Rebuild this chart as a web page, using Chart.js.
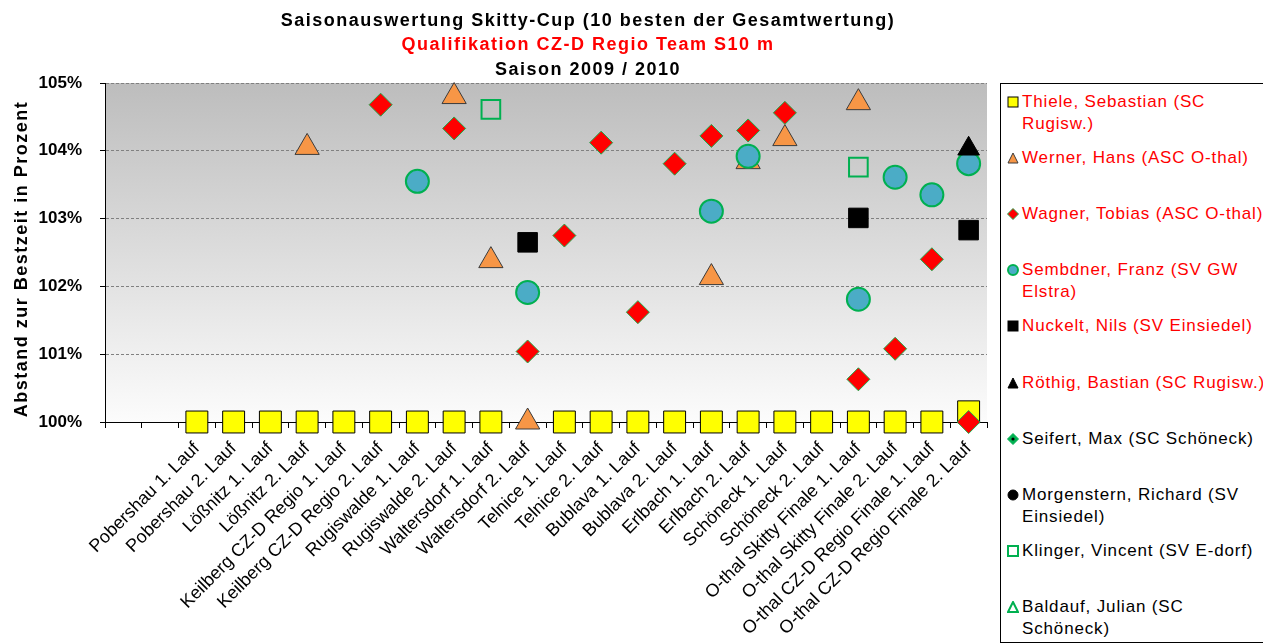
<!DOCTYPE html>
<html>
<head>
<meta charset="utf-8">
<script src="https://cdn.jsdelivr.net/npm/chart.js@4"></script>
<style>
  html, body { margin: 0; padding: 0; background: #fff; overflow: hidden; }
  #wrap { position: relative; width: 1263px; height: 644px; }
  #legend { position: absolute; left: 1000px; top: 83px; width: 290px; height: 558px; border: 1px solid #000;
            background: #fff; overflow: hidden; font: 17px Arial, "Liberation Sans", sans-serif; letter-spacing: 0.85px; }
  .item { position: absolute; left: 0; padding-left: 21px; line-height: 22px; white-space: nowrap; }
  .item svg { position: absolute; left: 6px; top: 5px; }
</style>
</head>
<body>
<div id="wrap">
  <canvas id="skittyChart" width="1263" height="644"></canvas>
  <div id="legend"></div>
</div>
<script>
// Saisonauswertung Skitty-Cup 2009/2010 - Abstand zur Bestzeit in Prozent

var categories = ['', '', 'Pobershau 1. Lauf', 'Pobershau 2. Lauf', 'Lößnitz 1. Lauf', 'Lößnitz 2. Lauf',
    'Keilberg CZ-D Regio 1. Lauf', 'Keilberg CZ-D Regio 2. Lauf', 'Rugiswalde 1. Lauf', 'Rugiswalde 2. Lauf',
    'Waltersdorf 1. Lauf', 'Waltersdorf 2. Lauf', 'Telnice 1. Lauf', 'Telnice 2. Lauf', 'Bublava 1. Lauf',
    'Bublava 2. Lauf', 'Erlbach 1. Lauf', 'Erlbach 2. Lauf', 'Schöneck 1. Lauf', 'Schöneck 2. Lauf',
    'O-thal Skitty Finale 1. Lauf', 'O-thal Skitty Finale 2. Lauf', 'O-thal CZ-D Regio Finale 1. Lauf',
    'O-thal CZ-D Regio Finale 2. Lauf'];

var thiele      = [null, null, 100, 100, 100, 100, 100, 100, 100, 100, 100, null, 100, 100, 100, 100, 100, 100, 100, 100, 100, 100, 100, 100.15];
var werner      = [null, null, null, null, null, 104.05, null, null, null, 104.80, 102.38, 100, null, null, null, null, 102.13, 103.84, 104.18, null, 104.71, null, null, null];
var wagner      = [null, null, null, null, null, null, null, 104.68, null, 104.33, null, 101.04, 102.75, 104.12, 101.62, 103.81, 104.22, 104.30, 104.56, null, 100.63, 101.08, 102.40, 100.0];
var sembdner    = [null, null, null, null, null, null, null, null, 103.55, null, null, 101.91, null, null, null, null, 103.11, 103.92, null, null, 101.81, 103.61, 103.35, 103.81];
var nuckelt     = [null, null, null, null, null, null, null, null, null, null, null, 102.65, null, null, null, null, null, null, null, null, 103.01, null, null, 102.83];
var roethig     = [null, null, null, null, null, null, null, null, null, null, null, null, null, null, null, null, null, null, null, null, null, null, null, 104.03];
var seifert     = [];
var morgenstern = [];
var klinger     = [null, null, null, null, null, null, null, null, null, null, 104.61, null, null, null, null, null, null, null, null, null, 103.76, null, null, null];
var baldauf     = [];

var yTicks = [100, 101, 102, 103, 104, 105];

var titleLines = ['Saisonauswertung Skitty-Cup (10 besten der Gesamtwertung)',
    'Qualifikation CZ-D Regio Team S10 m', 'Saison 2009 / 2010'];
var yTitle = 'Abstand zur Bestzeit in Prozent';

var FONT = 'Arial, "Liberation Sans", sans-serif';
Chart.defaults.font.family = FONT;
Chart.defaults.color = '#000';

var series = [
    { label: ['Thiele, Sebastian (SC', 'Rugisw.)'], data: thiele, pointStyle: 'rect', radius: 15.5, bg: '#ffff00', border: '#000', bw: 1, text: '#ff0000' },
    { label: ['Werner, Hans (ASC O-thal)'], data: werner, pointStyle: 'triangle', radius: 14, bg: '#f79646', border: '#3b3b3b', bw: 1, text: '#ff0000' },
    { label: ['Wagner, Tobias (ASC O-thal)'], data: wagner, pointStyle: 'rectRot', radius: 11.5, bg: '#ff0000', border: '#1faa4a', bw: 1, text: '#ff0000' },
    { label: ['Sembdner, Franz (SV GW', 'Elstra)'], data: sembdner, pointStyle: 'circle', radius: 11.5, bg: '#4bacc6', border: '#00b050', bw: 2, text: '#ff0000' },
    { label: ['Nuckelt, Nils (SV Einsiedel)'], data: nuckelt, pointStyle: 'rect', radius: 13.8, bg: '#000', border: '#000', bw: 1, text: '#ff0000' },
    { label: ['Röthig, Bastian (SC Rugisw.)'], data: roethig, pointStyle: 'triangle', radius: 12.5, bg: '#000', border: '#000', bw: 1, text: '#ff0000' },
    { label: ['Seifert, Max (SC Schöneck)'], data: seifert, pointStyle: 'rectRot', radius: 11, bg: '#00b050', border: '#00b050', bw: 1, text: '#000' },
    { label: ['Morgenstern, Richard (SV', 'Einsiedel)'], data: morgenstern, pointStyle: 'circle', radius: 11, bg: '#000', border: '#000', bw: 1, text: '#000' },
    { label: ['Klinger, Vincent (SV E-dorf)'], data: klinger, pointStyle: 'rect', radius: 13.2, bg: 'rgba(0,0,0,0)', border: '#00b050', bw: 2, text: '#000' },
    { label: ['Baldauf, Julian (SC', 'Schöneck)'], data: baldauf, pointStyle: 'triangle', radius: 12, bg: 'rgba(0,0,0,0)', border: '#00b050', bw: 2, text: '#000' }
];

// plot area gradient + title lines + y axis title
var decoration = {
    id: 'decoration',
    beforeDraw: function (chart) {
        var a = chart.chartArea, ctx = chart.ctx;
        var g = ctx.createLinearGradient(0, a.top, 0, a.bottom);
        g.addColorStop(0, '#bdbdbd');
        g.addColorStop(1, '#fcfcfc');
        ctx.save();
        ctx.fillStyle = g;
        ctx.fillRect(a.left, a.top, a.right - a.left, a.bottom - a.top);
        ctx.restore();
    },
    afterDraw: function (chart) {
        var ctx = chart.ctx;
        var colors = ['#000', '#ff0000', '#000'];
        ctx.save();
        ctx.font = 'bold 18px ' + FONT;
        ctx.letterSpacing = '1.5px';
        ctx.textAlign = 'center';
        ctx.textBaseline = 'middle';
        titleLines.forEach(function (t, i) {
            ctx.fillStyle = colors[i];
            ctx.fillText(t, 588, 21 + i * 24.5);
        });
        ctx.translate(22, 259);
        ctx.rotate(-Math.PI / 2);
        ctx.fillStyle = '#000';
        ctx.fillText(yTitle, 0, 0);
        ctx.restore();
    }
};

var ctx = document.getElementById('skittyChart').getContext('2d');
var skittyChart = new Chart(ctx, {
    type: 'line',
    data: {
        labels: categories,
        datasets: series.map(function (s, i) {
            return {
                label: s.label.join(' '),
                data: s.data,
                showLine: false,
                clip: false,
                order: -i,
                pointStyle: s.pointStyle,
                pointRadius: s.radius,
                pointBackgroundColor: s.bg,
                pointBorderColor: s.border,
                pointBorderWidth: s.bw
            };
        })
    },
    options: {
        responsive: false,
        animation: false,
        events: [],
        layout: { padding: { top: 83, right: 276, bottom: 0, left: 0 } },
        plugins: {
            legend: { display: false },
            tooltip: { enabled: false }
        },
        scales: {
            x: {
                offset: true,
                grid: { offset: true, drawOnChartArea: false, color: '#000', tickLength: 6 },
                border: { color: '#000', width: 1 },
                ticks: { autoSkip: false, maxRotation: 45, minRotation: 45, font: { size: 18 }, color: '#000', padding: 10 },
                afterFit: function (scale) { scale.height = 222; }
            },
            y: {
                min: 100,
                max: 105,
                afterBuildTicks: function (scale) {
                    scale.ticks = yTicks.map(function (v) { return { value: v }; });
                },
                grid: { color: '#808080', tickColor: '#000', tickLength: 5 },
                border: { color: '#000', width: 1, dash: [3, 2] },
                ticks: {
                    font: { size: 17, weight: 'bold' },
                    color: '#000',
                    padding: 18,
                    callback: function (v) { return v + '%'; }
                },
                afterFit: function (scale) { scale.width = 105; }
            }
        }
    },
    plugins: [decoration]
});

// legend box, built from the same series list
var legendEl = document.getElementById('legend');
function marker(s) {
    var sw = s.bw > 1 ? 2 : 1, c = s.bg === 'rgba(0,0,0,0)' ? 'none' : s.bg, shape;
    if (s.pointStyle === 'rect') shape = '<rect x="1" y="1" width="10" height="10"/>';
    else if (s.pointStyle === 'triangle') shape = '<polygon points="6,1 11,11 1,11"/>';
    else if (s.pointStyle === 'rectRot') shape = '<polygon points="6,0.5 11.5,6 6,11.5 0.5,6"/>';
    else shape = '<circle cx="6" cy="6" r="5"/>';
    var inner = '';
    if (s.label[0].indexOf('Seifert') === 0) inner = '<circle cx="6" cy="6" r="1.6" fill="#000"/>';
    return '<svg width="12" height="12" viewBox="0 0 12 12"><g fill="' + c + '" stroke="' + s.border +
        '" stroke-width="' + sw + '">' + shape + '</g>' + inner + '</svg>';
}
series.forEach(function (s, i) {
    var el = document.createElement('div');
    el.className = 'item';
    el.style.top = (7 + i * 56.1) + 'px';
    el.style.color = s.text;
    el.innerHTML = marker(s) + s.label.join('<br>');
    legendEl.appendChild(el);
});
</script>
</body>
</html>
